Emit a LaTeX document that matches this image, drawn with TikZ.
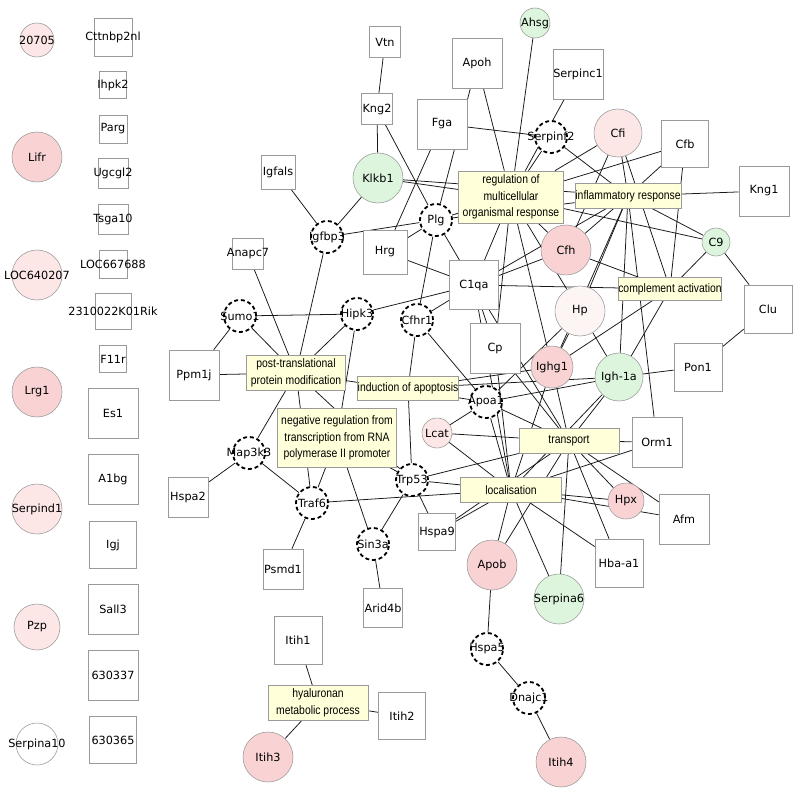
\documentclass[tikz,border=0pt]{standalone}
\usepackage{fontspec}
\setmainfont{DejaVu Sans}
\newfontfamily\gofont[FakeStretch=0.85]{Liberation Sans}
\usetikzlibrary{backgrounds}

\definecolor{gofill}{HTML}{FFFFD9}
\definecolor{pinkA}{HTML}{F9D3D3}
\definecolor{pinkB}{HTML}{FCE6E6}
\definecolor{pinkC}{HTML}{FDF4F4}
\definecolor{greenA}{HTML}{DCF5DC}
\definecolor{rim}{HTML}{9A9A9A}

\tikzset{
  gene/.style={draw=rim, line width=0.4pt, fill=white, minimum size=#1*0.025cm, inner sep=0pt,
    font=\fontsize{8}{9}\selectfont,
    execute at begin node={\hbox to 0pt\bgroup\hss}, execute at end node={\hss\egroup}},
  sq/.style={gene=#1, rectangle},
  ci/.style={gene=2*#1, circle},
  dashci/.style={gene=2*#1, circle, draw=black, line width=1.3pt, dash pattern=on 2.8pt off 2pt},
  goterm/.style={draw=rim, line width=0.4pt, fill=gofill, inner sep=0pt, align=center,
    font=\gofont\fontsize{8.7}{11.8}\selectfont},
  edge/.style={line width=0.55pt, black!90}
}

\begin{document}
\begin{tikzpicture}[x=0.025cm, y=-0.025cm]
  \useasboundingbox (0,0) rectangle (800,796);

  % unconnected genes, left
  \node[ci=17, fill=pinkB] (g20705) at (37,40) {20705};
  \node[ci=25, fill=pinkA] (lifr) at (37,157) {Lifr};
  \node[ci=25, fill=pinkB] (loc640) at (37,275) {LOC640207};
  \node[ci=25, fill=pinkA] (lrg1) at (37,392) {Lrg1};
  \node[ci=25, fill=pinkB] (serpind1) at (37,509) {Serpind1};
  \node[ci=23, fill=pinkB] (pzp) at (37,627) {Pzp};
  \node[ci=21] (serpina10) at (37,744) {Serpina10};

  \node[sq=38] (cttnbp2nl) at (113,37) {Cttnbp2nl};
  \node[sq=27] (ihpk2) at (113,85) {Ihpk2};
  \node[sq=28] (parg) at (113,129) {Parg};
  \node[sq=30] (ugcgl2) at (113,173) {Ugcgl2};
  \node[sq=30] (tsga10) at (113,219) {Tsga10};
  \node[sq=28] (loc667) at (113,264) {LOC667688};
  \node[sq=36] (rik) at (113,311) {2310022K01Rik};
  \node[sq=27] (f11r) at (113,359) {F11r};
  \node[sq=50] (es1) at (113,413) {Es1};
  \node[sq=50] (a1bg) at (113,479) {A1bg};
  \node[sq=47] (igj) at (113,545) {Igj};
  \node[sq=50] (sall3) at (113,609) {Sall3};
  \node[sq=50] (g630337) at (113,675) {630337};
  \node[sq=47] (g630365) at (113,740) {630365};

  % GO terms
  \node[goterm, minimum width=105*0.025cm, minimum height=52*0.025cm] (reg) at (511,197) {regulation of\\multicellular\\organismal response};
  \node[goterm, minimum width=106*0.025cm, minimum height=25*0.025cm] (inf) at (628,196) {inflammatory response};
  \node[goterm, minimum width=103*0.025cm, minimum height=23*0.025cm] (comp) at (670,289) {complement activation};
  \node[goterm, minimum width=99*0.025cm, minimum height=35*0.025cm] (ptm) at (296,373) {post-translational\\protein modification};
  \node[goterm, minimum width=100*0.025cm, minimum height=24*0.025cm] (apop) at (408,388) {induction of apoptosis};
  \node[goterm, minimum width=119*0.025cm, minimum height=59*0.025cm] (negreg) at (337,438) {negative regulation from\\transcription from RNA\\polymerase II promoter};
  \node[goterm, minimum width=100*0.025cm, minimum height=25*0.025cm] (tr) at (569,441) {transport};
  \node[goterm, minimum width=101*0.025cm, minimum height=25*0.025cm] (loc) at (511,490) {localisation};
  \node[goterm, minimum width=100*0.025cm, minimum height=35*0.025cm] (hyal) at (318,703) {hyaluronan\\metabolic process};

  % genes of the network
  \node[sq=31] (vtn) at (385,42) {Vtn};
  \node[sq=31] (kng2) at (377,109) {Kng2};
  \node[sq=50] (apoh) at (477,63) {Apoh};
  \node[sq=50] (fga) at (442,124) {Fga};
  \node[ci=15, fill=greenA] (ahsg) at (535,23) {Ahsg};
  \node[sq=50] (serpinc1) at (578,74) {Serpinc1};
  \node[dashci=16] (serpinf2) at (551,137) {Serpinf2};
  \node[ci=24, fill=pinkB] (cfi) at (618,133) {Cfi};
  \node[sq=47] (cfb) at (685,144) {Cfb};
  \node[sq=50] (kng1) at (764,191) {Kng1};
  \node[sq=34] (igfals) at (278,172) {Igfals};
  \node[ci=25, fill=greenA] (klkb1) at (378,178) {Klkb1};
  \node[dashci=16] (plg) at (436,220) {Plg};
  \node[dashci=16] (igfbp3) at (327,237) {Igfbp3};
  \node[sq=31] (anapc7) at (248,254) {Anapc7};
  \node[sq=44] (hrg) at (385,252) {Hrg};
  \node[sq=49] (c1qa) at (474,285) {C1qa};
  \node[ci=25, fill=pinkA] (cfh) at (566,250) {Cfh};
  \node[ci=14, fill=greenA] (c9) at (716,242) {C9};
  \node[sq=48] (clu) at (768,309) {Clu};
  \node[ci=25, fill=pinkC] (hp) at (580,311) {Hp};
  \node[dashci=16] (sumo1) at (240,316) {Sumo1};
  \node[dashci=16] (hipk3) at (357,314) {Hipk3};
  \node[dashci=16] (cfhr1) at (417,320) {Cfhr1};
  \node[sq=50] (cp) at (495,348) {Cp};
  \node[ci=21, fill=pinkA] (ighg1) at (552,367) {Ighg1};
  \node[ci=24, fill=greenA] (igha) at (619,377) {Igh-1a};
  \node[sq=48] (pon1) at (698,367) {Pon1};
  \node[sq=50] (ppm1j) at (194,375) {Ppm1j};
  \node[dashci=16] (apoa1) at (486,402) {Apoa1};
  \node[ci=15, fill=pinkB] (lcat) at (437,433) {Lcat};
  \node[sq=50] (orm1) at (657,442) {Orm1};
  \node[dashci=16] (map3k3) at (249,453) {Map3k3};
  \node[sq=40] (hspa2) at (188,497) {Hspa2};
  \node[dashci=16] (traf6) at (312,503) {Traf6};
  \node[dashci=16] (trp53) at (412,480) {Trp53};
  \node[sq=37] (hspa9) at (437,532) {Hspa9};
  \node[ci=18, fill=pinkA] (hpx) at (626,501) {Hpx};
  \node[sq=50] (afm) at (684,519) {Afm};
  \node[sq=48] (hbaa) at (619,563) {Hba-a1};
  \node[ci=25, fill=pinkA] (apob) at (492,565) {Apob};
  \node[ci=25, fill=greenA] (serpina6) at (559,599) {Serpina6};
  \node[dashci=16] (sin3a) at (373,544) {Sin3a};
  \node[sq=40] (psmd1) at (283,569) {Psmd1};
  \node[sq=39] (arid4b) at (383,608) {Arid4b};
  \node[sq=48] (itih1) at (298,640) {Itih1};
  \node[sq=47] (itih2) at (402,716) {Itih2};
  \node[ci=25, fill=pinkA] (itih3) at (268,757) {Itih3};
  \node[dashci=16] (hspa5) at (487,649) {Hspa5};
  \node[dashci=16] (dnajc1) at (529,698) {Dnajc1};
  \node[ci=25, fill=pinkA] (itih4) at (561,762) {Itih4};

  \begin{pgfonlayer}{background}
    \foreach \a/\b in {vtn/kng2, kng2/klkb1, kng2/plg, klkb1/igfbp3, igfals/igfbp3, igfbp3/plg,
        klkb1/reg, klkb1/inf, plg/reg, plg/inf, apoh/plg, apoh/reg, fga/hrg, fga/serpinf2,
        ahsg/reg, serpinc1/reg, serpinf2/reg, serpinf2/inf, cfi/reg, cfi/inf, cfi/cfh, cfi/comp,
        cfb/reg, cfb/inf, cfb/comp, kng1/inf, c9/reg, c9/inf, c9/comp, c9/clu, pon1/clu,
        cfh/reg, cfh/inf, cfh/comp, c1qa/cfh, c1qa/inf, c1qa/comp, c1qa/reg, c1qa/plg, c1qa/hrg,
        c1qa/hipk3, c1qa/cfhr1, c1qa/cp, c1qa/loc, c1qa/tr, hrg/plg, cfhr1/plg, cfhr1/apop,
        cfhr1/apoa1, cp/reg, cp/tr, cp/loc, hp/reg, hp/inf, hp/ighg1, hp/igha, hp/apoa1,
        ighg1/reg, ighg1/inf, ighg1/comp, ighg1/tr, ighg1/loc, ighg1/apop,
        igha/inf, igha/comp, igha/pon1, igha/tr, igha/loc, igha/apop, igha/apoa1,
        apoa1/tr, apoa1/loc, apoa1/lcat, lcat/tr, lcat/loc, orm1/tr, orm1/loc, orm1/inf,
        trp53/tr, trp53/loc, trp53/apop, trp53/negreg, trp53/sin3a, trp53/hspa9, trp53/ptm,
        hspa9/loc, hspa9/tr, traf6/loc, traf6/negreg, traf6/ptm, traf6/map3k3, traf6/psmd1,
        map3k3/ptm, map3k3/hspa2, sin3a/negreg, sin3a/arid4b, hipk3/negreg, hipk3/sumo1,
        hipk3/ptm, sumo1/ptm, sumo1/ppm1j, ptm/ppm1j, ptm/anapc7, ptm/igfbp3, ptm/apoa1,
        hpx/tr, hpx/loc, afm/tr, afm/loc, hbaa/tr, hbaa/loc, serpina6/tr, serpina6/loc,
        apob/tr, apob/loc, apob/hspa5, hspa5/dnajc1, dnajc1/itih4,
        itih1/hyal, itih2/hyal, itih3/hyal}
      \draw[edge] (\a) -- (\b);
  \end{pgfonlayer}
\end{tikzpicture}
\end{document}
